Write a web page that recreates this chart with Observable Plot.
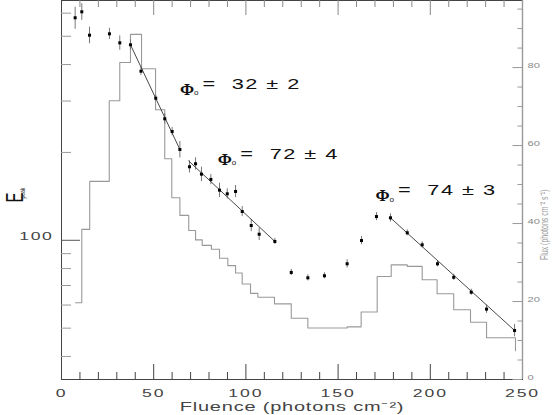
<!DOCTYPE html>
<html><head><meta charset="utf-8">
<script src="https://cdn.jsdelivr.net/npm/d3@7"></script>
<script src="https://cdn.jsdelivr.net/npm/@observablehq/plot@0.6"></script>
<style>
body{margin:0;background:#fff;}
#chart{position:relative;width:554px;height:415px;}
#chart svg{position:absolute;left:0;top:0;}
</style></head><body><div id="chart"></div>
<script>
// ---- data ----
const fluence = [7.4, 11.0, 15.2, 26.0, 31.6, 37.4, 43.1, 51.1, 56.0, 60.0, 64.2, 69.4, 72.7, 75.9, 81.0, 85.7, 89.9, 94.4, 98.0, 102.9, 107.2, 115.7, 124.6, 133.6, 142.6, 154.9, 162.7, 170.8, 178.4, 187.5, 195.6, 203.9, 212.7, 222.2, 230.5, 245.7];
const epeak = [578.6, 606.5, 504.2, 509.8, 474.8, 467.5, 379.6, 306.8, 260.8, 235.9, 204.7, 178.6, 182.9, 168.5, 161.6, 148.5, 144.3, 147.0, 125.5, 112.4, 104.9, 99.1, 77.6, 74.4, 75.6, 83.1, 99.8, 120.6, 119.4, 106.1, 96.5, 83.1, 74.7, 66.4, 58.1, 49.1];
const epeakErr = [50, 39.5, 32.8, 22.6, 27, 18.8, 12.2, 7.3, 10.5, 7.6, 13.3, 8.6, 8.9, 9.6, 6.5, 8.4, 5.8, 7.1, 5.0, 5.4, 5.1, 2.4, 1.9, 1.8, 1.8, 2.7, 3.2, 3.9, 3.8, 2.5, 2.3, 2.0, 1.8, 1.6, 1.9, 2.4];

const fitStartF = [37.4, 69.0, 178.4];
const fitStartE = [467.5, 186.9, 119.4];
const fitEndF = [64.2, 115.7, 245.7];
const fitEndE = [204.7, 99.1, 49.1];

const phiText = ["=\u00a0\u00a032 ± 2", "=\u00a0\u00a072 ± 4", "=\u00a0\u00a074 ± 3"];
const phiF = [64.2, 84.8, 170.3];
const phiE = [329, 189.6, 142.4];

const fluxEdges = [7.6, 11.0, 15.3, 25.9, 31.6, 37.4, 43.4, 51.0, 56.0, 59.8, 64.2, 69.0, 72.7, 76.3, 81.3, 85.7, 90.2, 94.4, 98.0, 102.5, 106.5, 115.5, 124.6, 133.6, 154.9, 162.5, 171.2, 178.8, 187.5, 195.6, 203.7, 212.7, 221.8, 230.5, 246.2];
const fluxValues = [19.7, 38.5, 50.8, 71.5, 81.3, 88.5, 79.7, 69.2, 56.6, 46.6, 42.1, 38.2, 35.8, 34.4, 33.4, 31.1, 29.2, 27.3, 24.5, 22.1, 21.1, 19.4, 15.7, 13.2, 13.5, 17.3, 26.4, 29.4, 29.0, 25.6, 22.0, 17.9, 14.7, 10.7, 7.4];

const xTicks = [0, 50, 100, 150, 200, 250];
const xMajorInner = [50, 100, 150, 200];
const xMinorTicks = [10, 20, 30, 40, 60, 70, 80, 90, 110, 120, 130, 140, 160, 170, 180, 190, 210, 220, 230, 240];
const eMinorTicks = [40, 50, 60, 70, 80, 90, 200, 300, 400, 500, 600];
const eLabelTicks = [100];
const fluxTicks = [0, 20, 40, 60, 80];
const fluxMinorTicks = [5, 10, 15, 25, 30, 35, 45, 50, 55, 65, 70, 75, 85, 90, 95];

const xDomain = [0, 250];
const eDomain = [33.35, 663];
const fluxDomain = [0, 97.2];

// ---- tables ----
const points = fluence.map((f, i) => ({f, e: epeak[i], err: epeakErr[i]}));
const fits = fitStartF.flatMap((f, i) => [
  {id: i, f, e: fitStartE[i]},
  {id: i, f: fitEndF[i], e: fitEndE[i]}
]);
const phis = phiF.map((f, i) => ({f, e: phiE[i], t: phiText[i]}));
const hist = fluxEdges.map((f, i) => ({f, flux: fluxValues[i]}));

const W = 554, H = 415;
const margins = {marginLeft: 61, marginRight: 32, marginTop: 0, marginBottom: 36};
const FONT = "'Liberation Sans', Arial, Helvetica, sans-serif";

// ---- flux plot (background) ----
const plotFlux = Plot.plot({
  width: W, height: H, ...margins,
  style: {fontFamily: FONT, background: "white", overflow: "visible"},
  x: {domain: xDomain, axis: null},
  y: {domain: fluxDomain},
  marks: [
    Plot.frame({stroke: "#444"}),
    Plot.ruleX([xDomain[1]], {stroke: "#999", strokeWidth: 1.4}),
    Plot.tickY(fluxTicks, {stroke: "#999", insetLeft: 451.5}),
    Plot.tickY(fluxMinorTicks, {stroke: "#999", insetLeft: 456.5}),
    Plot.line(hist, {x: "f", y: "flux", curve: "step-after", stroke: "#999", strokeWidth: 1.1}),
    Plot.axisY({anchor: "right", ticks: fluxTicks, tickSize: 0, tickPadding: 5, fontSize: 7, color: "#888", label: null}),
    Plot.text(["Flux (photons cm\u207B\u00B2 s\u207B\u00B9)"], {frameAnchor: "right", dx: 25, dy: -0.5, rotate: -90, fontSize: 7, fill: "#999"})
  ]
});

// ---- Epeak plot (foreground) ----
const plotE = Plot.plot({
  width: W, height: H, ...margins,
  style: {fontFamily: FONT, background: "transparent", overflow: "visible"},
  x: {domain: xDomain},
  y: {type: "log", domain: eDomain},
  marks: [
    Plot.tickX(xMinorTicks, {stroke: "#888", insetBottom: 372}),
    Plot.tickX(xMajorInner, {stroke: "#888", insetBottom: 364}),
    Plot.tickX(xMinorTicks, {stroke: "#444", insetTop: 372}),
    Plot.tickX(xMajorInner, {stroke: "#444", insetTop: 364}),
    Plot.tickY(eMinorTicks, {stroke: "#999", insetRight: 451}),
    Plot.tickY(eLabelTicks, {stroke: "#555", insetRight: 442}),
    Plot.ruleX(points, {x: "f", y1: d => d.e - d.err, y2: d => d.e + d.err, stroke: "#777"}),
    Plot.line(fits, {x: "f", y: "e", z: "id", stroke: "#333", strokeWidth: 0.9}),
    Plot.dot(points, {x: "f", y: "e", symbol: "square", r: 1.7, fill: "#000", stroke: "none"}),
    // text marks (order matters for post-processing below)
    Plot.text(phis, {x: "f", y: "e", text: () => "\u03A6", textAnchor: "start", fontFamily: "'Liberation Serif', 'Times New Roman', serif", fontWeight: "bold", fontSize: 17, fill: "#111"}),
    Plot.text(phis, {x: "f", y: "e", text: () => "o", textAnchor: "start", dx: 14, dy: 3.5, fontSize: 8, fill: "#111"}),
    Plot.text(phis, {x: "f", y: "e", text: "t", textAnchor: "start", dx: 22.5, fontSize: 14.5, fill: "#111"}),
    Plot.text(["Fluence (photons cm\u207B\u00B2)"], {x: [125], frameAnchor: "bottom", dy: 31, fontSize: 12.5, fill: "#444"}),
    Plot.text(["E"], {frameAnchor: "left", dx: -38.5, dy: 12.5, rotate: -90, fontSize: 15, fill: "#111"}),
    Plot.text(["peak"], {frameAnchor: "left", dx: -36.5, dy: 8.5, rotate: -90, textAnchor: "start", fontSize: 5, fill: "#333"}),
    Plot.axisX({ticks: xTicks, tickSize: 0, tickPadding: 17, fontSize: 11, color: "#444", label: null}),
    Plot.axisY({anchor: "left", ticks: eLabelTicks, tickFormat: d => String(d), tickSize: 0, tickPadding: 8, fontSize: 11, color: "#444", label: null})
  ]
});

function stretchNodes(nodes, s, ls) {
  nodes.forEach(t => {
    const x = t.getAttribute("x"), y = t.getAttribute("y");
    let tr = t.getAttribute("transform") || "";
    if (x !== null || y !== null) {
      tr += ` translate(${+x || 0},${+y || 0})`;
      t.removeAttribute("x"); t.removeAttribute("y");
    }
    if (/rotate\(/.test(tr)) tr = tr.replace(/rotate\(/, `scale(${s},1) rotate(`);
    else tr += ` scale(${s},1)`;
    t.setAttribute("transform", tr.trim());
    if (ls != null) t.setAttribute("letter-spacing", ls);
  });
}
const textGroupsE = plotE.querySelectorAll('g[aria-label="text"]');
const tg = i => textGroupsE[i] ? [...textGroupsE[i].querySelectorAll("text")] : [];
stretchNodes(tg(2), 1.5, 1);      // "= 32 ± 2" etc.
stretchNodes(tg(3), 1.6, 0.5);    // Fluence title
stretchNodes(tg(4), 1.6, null);   // E
stretchNodes(tg(5), 1.6, null);   // peak
stretchNodes([...plotE.querySelectorAll('g[aria-label^="x-axis"] text')], 1.6, 1.2);
stretchNodes([...plotE.querySelectorAll('g[aria-label^="y-axis"] text')], 1.6, 1.0);
stretchNodes([...plotFlux.querySelectorAll('g[aria-label^="y-axis"] text')], 1.6, 0);
stretchNodes([...plotFlux.querySelectorAll('g[aria-label="text"] text')], 1.6, null);

const chart = document.getElementById("chart");
chart.appendChild(plotFlux);
chart.appendChild(plotE);
</script>
</body></html>
